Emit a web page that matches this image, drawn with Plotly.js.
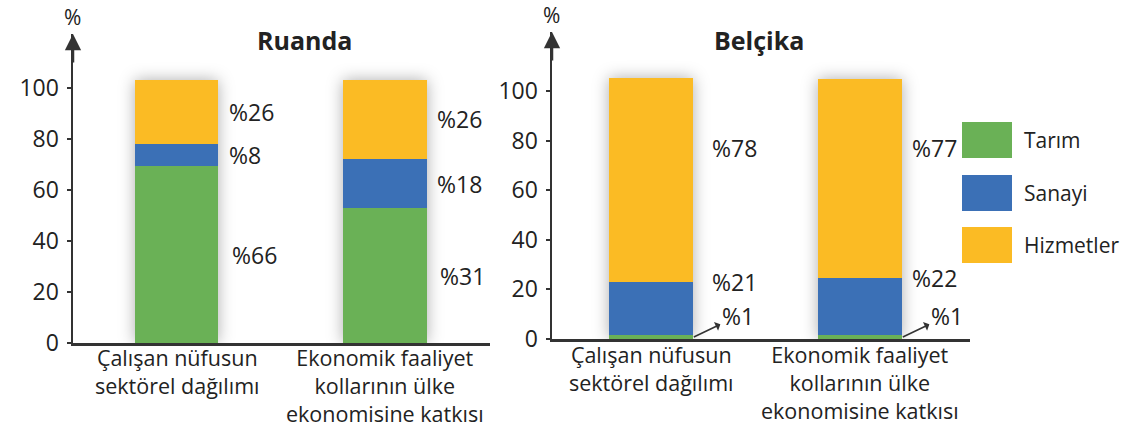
<!DOCTYPE html>
<html>
<head>
<meta charset="utf-8">
<script src="https://cdn.plot.ly/plotly-3.0.1.min.js"></script>
<style>
html, body { margin: 0; padding: 0; background: #fff; }
#chart { width: 1141px; height: 428px; }
.barlayer { filter: drop-shadow(0 0 8px rgba(0,0,0,0.32)); }
</style>
</head>
<body>
<div id="chart"></div>
<script>
// ---- data ----
const categories = ['Çalışan nüfusun<br>sektörel dağılımı', 'Ekonomik faaliyet<br>kollarının ülke<br>ekonomisine katkısı'];
const seriesNames = ['Tarım', 'Sanayi', 'Hizmetler'];
const seriesColors = ['#6ab156', '#3b70b6', '#fbbb24'];

const ruandaTitle = 'Ruanda';
const ruandaTarim = [69.5, 53];
const ruandaSanayi = [8.5, 19.3];
const ruandaHizmetler = [25.3, 31];
const ruandaTarimLabels = ['%66', '%31'];
const ruandaSanayiLabels = ['%8', '%18'];
const ruandaHizmetlerLabels = ['%26', '%26'];

const belcikaTitle = 'Belçika';
const belcikaTarim = [1.6, 1.5];
const belcikaSanayi = [21.5, 23];
const belcikaHizmetler = [82, 80.5];
const belcikaTarimLabels = ['%1', '%1'];
const belcikaSanayiLabels = ['%21', '%22'];
const belcikaHizmetlerLabels = ['%78', '%77'];

const yTickVals = [0, 20, 40, 60, 80, 100];
const yTickText = ['0', '20', '40', '60', '80', '100'];
const unitLabel = '%';

// ---- layout helpers ----
const W = 1141, H = 428;
const FONT = '"Open Sans", "Noto Sans", sans-serif';
const TXT = '#222';
const AX = '#333';
const px = v => v / W;
const py = v => 1 - v / H;

const traces = [];
function addStack(xa, ya, vals) {
  vals.forEach((v, k) => {
    traces.push({
      type: 'bar', x: categories, y: v, name: seriesNames[k],
      marker: { color: seriesColors[k], line: { width: 0 } },
      width: 0.4, xaxis: xa, yaxis: ya, showlegend: false, hoverinfo: 'skip'
    });
  });
}
addStack('x', 'y', [ruandaTarim, ruandaSanayi, ruandaHizmetler]);
addStack('x2', 'y2', [belcikaTarim, belcikaSanayi, belcikaHizmetler]);

const annotations = [];
function lbl(xref, yref, x, y, text) {
  annotations.push({ xref, yref, x, y, text, showarrow: false, xanchor: 'left', yanchor: 'middle',
    font: { family: FONT, size: 23, color: TXT } });
}
// Ruanda labels at segment middles
for (let i = 0; i < 2; i++) {
  const a = ruandaTarim[i], b = ruandaSanayi[i], c = ruandaHizmetler[i];
  lbl('x', 'y', i + 0.255, a / 2, ruandaTarimLabels[i]);
  lbl('x', 'y', i + 0.24, a + b / 2, ruandaSanayiLabels[i]);
  lbl('x', 'y', i + 0.24, a + b + c / 2, ruandaHizmetlerLabels[i]);
}
// Belçika labels
for (let i = 0; i < 2; i++) {
  const a = belcikaTarim[i], b = belcikaSanayi[i], c = belcikaHizmetler[i];
  const dx = i === 0 ? 0.28 : 0.24;
  lbl('x2', 'y2', i + dx, a + b + c - 28, belcikaHizmetlerLabels[i]);
  lbl('x2', 'y2', i + dx, a + b, belcikaSanayiLabels[i]);
  annotations.push({ xref: 'x2', yref: 'y2', x: i + 0.205, y: 0.8, ax: 44, ay: -21,
    text: belcikaTarimLabels[i], showarrow: true, arrowside: 'start', arrowhead: 2,
    arrowsize: 1.3, arrowwidth: 1.6, arrowcolor: '#333', startstandoff: 0,
    xanchor: 'center', yanchor: 'middle',
    font: { family: FONT, size: 23, color: TXT } });
}
// category labels (one multi-line text per category)
function catLabels(xref, axisY) {
  categories.forEach((c, i) => {
    annotations.push({ xref, yref: 'paper', x: i, y: py(axisY - 1), text: c,
      showarrow: false, xanchor: 'center', yanchor: 'top', align: 'center', borderpad: 0,
      font: { family: FONT, size: 21.5, color: TXT } });
  });
}
catLabels('x', 343.3);
catLabels('x2', 339.5);
// titles
annotations.push({ xref: 'paper', yref: 'paper', x: px(304.5), y: py(40), text: '<b>' + ruandaTitle + '</b>',
  showarrow: false, xanchor: 'center', yanchor: 'middle', font: { family: FONT, size: 25, color: TXT } });
annotations.push({ xref: 'paper', yref: 'paper', x: px(759), y: py(40), text: '<b>' + belcikaTitle + '</b>',
  showarrow: false, xanchor: 'center', yanchor: 'middle', font: { family: FONT, size: 25, color: TXT } });
// % unit labels and axis arrows
[[73, 34, 17], [552, 32, 15]].forEach(([xp, tip, ly]) => {
  annotations.push({ xref: 'paper', yref: 'paper', x: px(xp - 1), y: py(ly), text: unitLabel,
    showarrow: false, xanchor: 'center', yanchor: 'middle', font: { family: FONT, size: 21, color: TXT } });
  annotations.push({ xref: 'paper', yref: 'paper', x: px(xp), y: py(tip), ax: 0, ay: 30, text: '',
    showarrow: true, arrowhead: 2, arrowsize: 1.3, arrowwidth: 2.5, arrowcolor: AX });
});

// custom legend
const shapes = [];
const legendRows = [140, 193, 245];
seriesNames.forEach((n, k) => {
  const yc = legendRows[k];
  shapes.push({ type: 'rect', xref: 'paper', yref: 'paper', x0: px(962), x1: px(1012),
    y0: py(yc + 18), y1: py(yc - 18), fillcolor: seriesColors[k], line: { width: 0 } });
  annotations.push({ xref: 'paper', yref: 'paper', x: px(1022), y: py(yc), text: n, showarrow: false,
    xanchor: 'left', yanchor: 'middle', font: { family: FONT, size: 21, color: TXT } });
});

function xAxis(domain, range) {
  return { domain, range, type: 'category', showline: true, linecolor: AX, linewidth: 2.5,
    ticks: '', showgrid: false, zeroline: false, fixedrange: true, showticklabels: false };
}
function yAxis(domain, range, anchor) {
  return { domain, range, anchor, showline: true, linecolor: AX, linewidth: 2.5,
    ticks: 'outside', ticklen: 4, tickwidth: 2, tickcolor: AX,
    tickvals: yTickVals, ticktext: yTickText, showgrid: false, zeroline: false, fixedrange: true,
    tickfont: { family: FONT, size: 23, color: TXT }, ticklabelstandoff: 3 };
}

const layout = {
  width: W, height: H, margin: { l: 0, r: 0, t: 0, b: 0 },
  paper_bgcolor: '#fff', plot_bgcolor: 'rgba(0,0,0,0)',
  barmode: 'stack', showlegend: false,
  xaxis: Object.assign(xAxis([px(73), px(490)], [-0.4964, 1.5036]), { anchor: 'y' }),
  yaxis: yAxis([py(343.3), py(34)], [0, 121.3], 'x'),
  xaxis2: Object.assign(xAxis([px(552), px(970)], [-0.4737, 1.5263]), { anchor: 'y2' }),
  yaxis2: yAxis([py(339), py(32)], [0, 123.8], 'x2'),
  annotations, shapes
};

Plotly.newPlot('chart', traces, layout, { displayModeBar: false, staticPlot: true });
</script>
</body>
</html>
